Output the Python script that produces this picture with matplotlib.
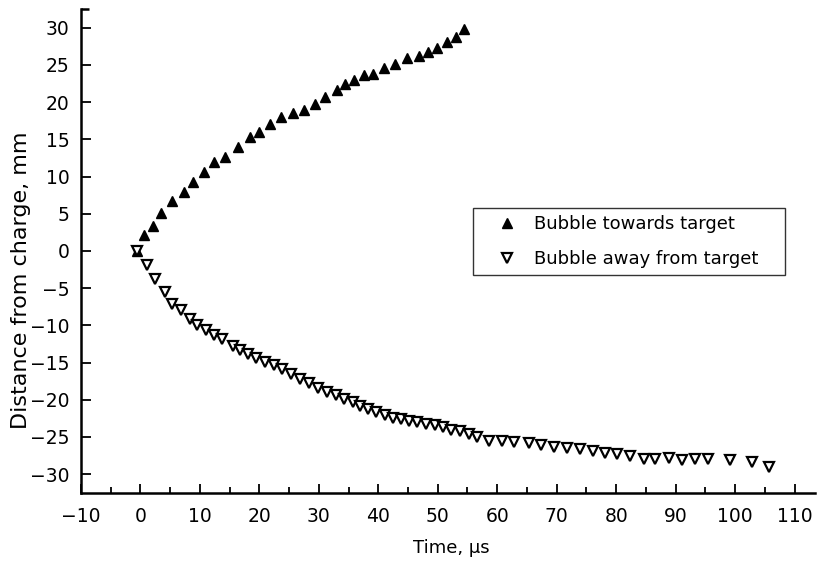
import matplotlib
matplotlib.use('Agg')
import matplotlib.pyplot as plt
from matplotlib.ticker import MultipleLocator, FixedLocator

plt.rcParams['font.family'] = ['DejaVu Sans']

# bubble moving towards the target (filled triangles)
t_towards = [-0.5, 0.6, 2.1, 3.5, 5.4, 7.3, 8.9, 10.7, 12.4, 14.2, 16.5, 18.4,
             20.0, 21.8, 23.7, 25.6, 27.5, 29.3, 31.1, 33.1, 34.4, 35.9, 37.6,
             39.2, 40.9, 42.8, 44.8, 46.8, 48.4, 49.9, 51.6, 53.0, 54.4]
d_towards = [0.0, 2.1, 3.3, 5.1, 6.7, 7.9, 9.3, 10.6, 11.9, 12.6, 14.0, 15.3,
             16.0, 17.0, 18.0, 18.6, 18.9, 19.8, 20.7, 21.6, 22.4, 23.0, 23.6,
             23.8, 24.6, 25.1, 25.9, 26.2, 26.7, 27.3, 28.1, 28.7, 29.8]

# bubble moving away from the target (open triangles)
t_away = [-0.5, 1.1, 2.4, 4.1, 5.3, 6.8, 8.3, 9.6, 11.1, 12.4, 13.8, 15.6,
          16.8, 18.1, 19.5, 20.9, 22.5, 23.9, 25.4, 26.9, 28.3, 29.8, 31.4,
          32.9, 34.2, 35.7, 37.0, 38.3, 39.7, 41.1, 42.5, 43.9, 45.2, 46.6,
          48.1, 49.5, 50.9, 52.3, 53.8, 55.2, 56.6, 58.6, 60.8, 62.8, 65.3,
          67.4, 69.5, 71.8, 74.0, 76.1, 78.2, 80.2, 82.4, 84.7, 86.6, 88.9,
          91.1, 93.2, 95.4, 99.1, 102.9, 105.7]
d_away = [0.0, -1.9, -3.8, -5.5, -7.1, -7.9, -9.1, -9.9, -10.6, -11.3, -11.8,
          -12.8, -13.3, -13.9, -14.4, -14.9, -15.3, -15.9, -16.6, -17.2, -17.8,
          -18.4, -19.0, -19.4, -19.9, -20.3, -20.8, -21.2, -21.7, -22.1, -22.5,
          -22.6, -22.8, -23.0, -23.2, -23.4, -23.6, -24.0, -24.25, -24.6, -25.0,
          -25.5, -25.6, -25.7, -25.8, -26.1, -26.4, -26.5, -26.6, -26.85, -27.1,
          -27.3, -27.5, -27.95, -27.9, -27.8, -28.05, -27.9, -27.9, -28.05,
          -28.3, -29.0]

fig = plt.figure(figsize=(8.17, 5.73), dpi=100)
ax = fig.add_axes([0.099, 0.14, 0.899, 0.844])

ax.plot(t_towards, d_towards, linestyle='none', marker='^', ms=7.5,
        color='black', label='Bubble towards target')
ax.plot(t_away, d_away, linestyle='none', marker='v', ms=7.5,
        markerfacecolor='white', markeredgecolor='black', markeredgewidth=1.6,
        label='Bubble away from target')

ax.set_xlim(-10, 113.5)
ax.set_ylim(-32.5, 32.5)

ax.spines['top'].set_visible(False)
ax.spines['right'].set_visible(False)
ax.spines['left'].set_linewidth(1.8)
ax.spines['bottom'].set_linewidth(1.8)

ax.xaxis.set_major_locator(MultipleLocator(10))
ax.xaxis.set_minor_locator(MultipleLocator(5))
ax.yaxis.set_major_locator(MultipleLocator(5))
ax.yaxis.set_minor_locator(FixedLocator([32.5]))
ax.tick_params(axis='x', which='major', direction='in', length=6.5, width=1.3,
               pad=10, labelsize=13.5)
ax.tick_params(axis='x', which='minor', direction='in', length=4, width=1.3)
ax.tick_params(axis='y', which='major', direction='in', length=7.5, width=1.3,
               pad=8, labelsize=13.5)
ax.tick_params(axis='y', which='minor', direction='in', length=6, width=1.8)

ax.set_xlabel('Time, µs', fontsize=13)
ax.xaxis.set_label_coords(0.505, -0.095)
ax.set_ylabel('Distance from charge, mm', fontsize=16)
ax.yaxis.set_label_coords(-0.068, 0.44)

leg = ax.legend(loc='upper left', bbox_to_anchor=(0.534, 0.3, 0.425, 0.289),
                mode='expand', borderaxespad=0, fancybox=False,
                edgecolor='black', fontsize=13, numpoints=1,
                handlelength=3.0, handletextpad=0.0, borderpad=0.39,
                labelspacing=0.94, markerscale=0.9)
leg.get_frame().set_linewidth(1.0)

fig.savefig('out.png', dpi=100)
